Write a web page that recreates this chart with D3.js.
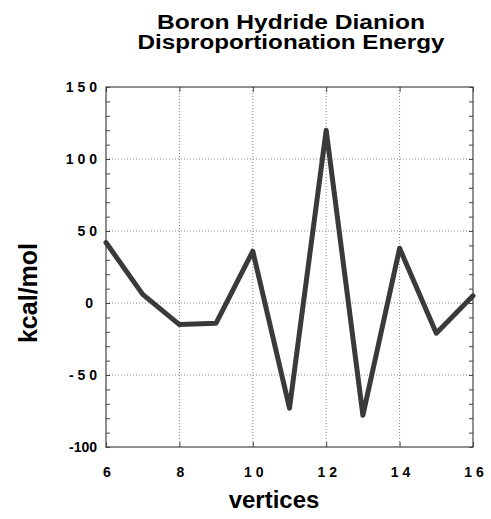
<!DOCTYPE html>
<html><head><meta charset="utf-8">
<script src="https://cdn.jsdelivr.net/npm/d3@7"></script>
<style>body{margin:0;background:#fff}svg text{font-family:"Liberation Sans",Arial,Helvetica,sans-serif;font-weight:bold;fill:#000;white-space:pre}</style>
</head><body><svg id="c" width="491" height="519"></svg>
<script>
const vertices=[6,7,8,9,10,11,12,13,14,15,16];
const energy=[42,6,-15,-14,36,-73,120,-78,38,-21,5];
const xTicks=[6,8,10,12,14,16];
const xTickLabels=["6","8","1 0","1 2","1 4","1 6"];
const yTicks=[150,100,50,0,-50,-100];
const yTickLabels=["1 5 0","1 0 0","5 0","0 ","- 5 0","-100"];
const yMinorTicks=d3.range(-100,151,10);
const titleLines=["Boron Hydride Dianion","Disproportionation Energy"];
const xTitle="vertices", yTitle="kcal/mol";

const L=106,R=473,T=87,B=447;
const svg=d3.select("#c");
const x=d3.scaleLinear().domain([6,16]).range([L,R]);
const y=d3.scaleLinear().domain([-100,150]).range([B,T]);

// gridlines
const g=svg.append("g");
g.selectAll(".gx").data(xTicks.slice(1,-1)).join("line")
 .attr("x1",d=>x(d)).attr("x2",d=>x(d)).attr("y1",T).attr("y2",B)
 .attr("stroke","#888").attr("stroke-width",1).attr("stroke-dasharray","1,2");
g.selectAll(".gy").data(yTicks.slice(1,-1)).join("line")
 .attr("y1",d=>y(d)).attr("y2",d=>y(d)).attr("x1",L).attr("x2",R)
 .attr("stroke","#888").attr("stroke-width",1).attr("stroke-dasharray","1,2");

// minor ticks left/right, ticks top/bottom
const yl=svg.append("g").attr("transform",`translate(${L},0)`)
 .call(d3.axisLeft(y).tickValues(yMinorTicks).tickSize(-4).tickFormat(""));
const yr=svg.append("g").attr("transform",`translate(${R},0)`)
 .call(d3.axisRight(y).tickValues(yMinorTicks).tickSize(-4).tickFormat(""));
const xb=svg.append("g").attr("transform",`translate(0,${B})`)
 .call(d3.axisBottom(x).tickValues(xTicks).tickSize(-5).tickFormat(""));
const xt=svg.append("g").attr("transform",`translate(0,${T})`)
 .call(d3.axisTop(x).tickValues(xTicks).tickSize(-5).tickFormat(""));
[yl,yr,xb,xt].forEach(a=>{a.select(".domain").remove();a.selectAll("line").attr("stroke","#444");});

// frame
svg.append("rect").attr("x",L).attr("y",T).attr("width",R-L).attr("height",B-T)
 .attr("fill","none").attr("stroke","#444").attr("stroke-width",1.2);

// y tick labels
svg.append("g").selectAll("text").data(yTicks).join("text")
 .attr("x",L-9).attr("y",d=>y(d)).attr("dy","0.36em").attr("text-anchor","end")
 .attr("font-size",14).text(d=>yTickLabels[yTicks.indexOf(d)]);
// x tick labels
svg.append("g").selectAll("text").data(xTicks).join("text")
 .attr("x",d=>x(d)+1).attr("y",477).attr("text-anchor","middle")
 .attr("font-size",14).text((d,i)=>xTickLabels[i]);

// line
const line=d3.line().x((d,i)=>x(vertices[i])).y(d=>y(d));
svg.append("path").datum(energy).attr("d",line).attr("fill","none")
 .attr("stroke","#3a3a3a").attr("stroke-width",5).attr("stroke-linejoin","round").attr("stroke-linecap","round");

// titles
const titleW=[268,307];
svg.append("g").selectAll("text").data(titleLines).join("text")
 .attr("x",291).attr("y",(d,i)=>29+i*20).attr("text-anchor","middle")
 .attr("font-size",19.5).attr("textLength",(d,i)=>titleW[i]).attr("lengthAdjust","spacingAndGlyphs").text(d=>d);
svg.append("text").attr("x",274).attr("y",508).attr("text-anchor","middle")
 .attr("font-size",24).text(xTitle);
svg.append("text").attr("transform","translate(37,293) rotate(-90)").attr("text-anchor","middle")
 .attr("font-size",25).text(yTitle);
</script></body></html>
